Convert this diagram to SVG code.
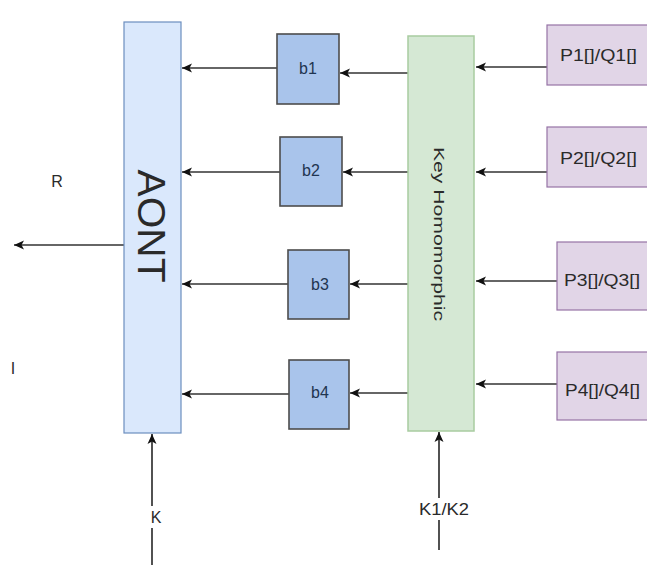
<svg xmlns="http://www.w3.org/2000/svg" width="647" height="575" viewBox="0 0 647 575">
<style>
text{font-family:"Liberation Sans",Arial,sans-serif;fill:#2a2a2a}
.c{stroke:#333;stroke-width:1.7;fill:none;marker-end:url(#ah)}
.aont{fill:#dae8fc;stroke:#6c8ebf;stroke-width:1.2}
.b{fill:#a9c4eb;stroke:#4d4d4d;stroke-width:1.6}
.kh{fill:#d5e8d4;stroke:#a8cca0;stroke-width:1.5}
.p{fill:#e1d5e7;stroke:#9673a6;stroke-width:1.2}
.lbl{font-size:16px}
.bl{font-size:16px;fill:#1f3550}
</style>
<defs>
<marker id="ah" markerWidth="12" markerHeight="12" refX="10" refY="6" orient="auto" markerUnits="userSpaceOnUse">
<path d="M0,1.5 L10,6 L0,10.5 L2.5,6 Z" fill="#111"/>
</marker>
</defs>
<rect width="647" height="575" fill="#fff"/>
<g id="connectors">
<line class="c" x1="124" y1="245" x2="14" y2="245"/>
<line class="c" x1="152" y1="565" x2="152" y2="434"/>
<line class="c" x1="439" y1="550" x2="439" y2="432"/>
<line class="c" x1="277" y1="68" x2="182" y2="68"/>
<line class="c" x1="280" y1="172" x2="182" y2="172"/>
<line class="c" x1="288" y1="284" x2="182" y2="284"/>
<line class="c" x1="289" y1="394" x2="182" y2="394"/>
<line class="c" x1="408" y1="73" x2="340" y2="73"/>
<line class="c" x1="408" y1="172" x2="343" y2="172"/>
<line class="c" x1="408" y1="284" x2="350" y2="284"/>
<line class="c" x1="408" y1="393" x2="350" y2="393"/>
<line class="c" x1="547" y1="67" x2="476" y2="67"/>
<line class="c" x1="547" y1="172" x2="476" y2="172"/>
<line class="c" x1="557" y1="281" x2="476" y2="281"/>
<line class="c" x1="557" y1="384" x2="476" y2="384"/>
<rect x="145" y="506" width="20" height="22" fill="#fff"/>
<text class="lbl" x="156" y="523" text-anchor="middle">K</text>
<rect x="418" y="498" width="52" height="22" fill="#fff"/>
<text class="lbl" x="444" y="515" text-anchor="middle" textLength="50" lengthAdjust="spacingAndGlyphs">K1/K2</text>
<text class="lbl" x="57" y="187" text-anchor="middle">R</text>
<text class="lbl" x="13" y="374" text-anchor="middle">I</text>
</g>
<g id="aont">
<rect class="aont" x="124" y="22" width="57" height="411"/>
<text x="152" y="226" text-anchor="middle" font-size="39" transform="rotate(90 152 226)" dy="14" textLength="113" lengthAdjust="spacingAndGlyphs">AONT</text>
</g>
<g id="b1"><rect class="b" x="277" y="34" width="62" height="70"/><text class="bl" x="308" y="74" text-anchor="middle">b1</text></g>
<g id="b2"><rect class="b" x="280" y="137" width="62" height="69"/><text class="bl" x="311" y="176" text-anchor="middle">b2</text></g>
<g id="b3"><rect class="b" x="288" y="250" width="61" height="69"/><text class="bl" x="320" y="290" text-anchor="middle">b3</text></g>
<g id="b4"><rect class="b" x="289" y="360" width="60" height="69"/><text class="bl" x="320" y="398" text-anchor="middle">b4</text></g>
<g id="keyhom">
<rect class="kh" x="408" y="36" width="66" height="395"/>
<text x="439" y="234" font-size="14" text-anchor="middle" transform="rotate(90 439 234)" dy="5" textLength="174" lengthAdjust="spacingAndGlyphs">Key Homomorphic</text>
</g>
<g id="p1"><rect class="p" x="547" y="25" width="110" height="60"/><text class="lbl" x="560" y="61" textLength="77" lengthAdjust="spacingAndGlyphs">P1[]/Q1[]</text></g>
<g id="p2"><rect class="p" x="547" y="127" width="110" height="60"/><text class="lbl" x="560" y="164" textLength="77" lengthAdjust="spacingAndGlyphs">P2[]/Q2[]</text></g>
<g id="p3"><rect class="p" x="557" y="242" width="110" height="68"/><text class="lbl" x="564" y="286" textLength="76" lengthAdjust="spacingAndGlyphs">P3[]/Q3[]</text></g>
<g id="p4"><rect class="p" x="557" y="352" width="110" height="68"/><text class="lbl" x="565" y="396" textLength="75" lengthAdjust="spacingAndGlyphs">P4[]/Q4[]</text></g>
</svg>
